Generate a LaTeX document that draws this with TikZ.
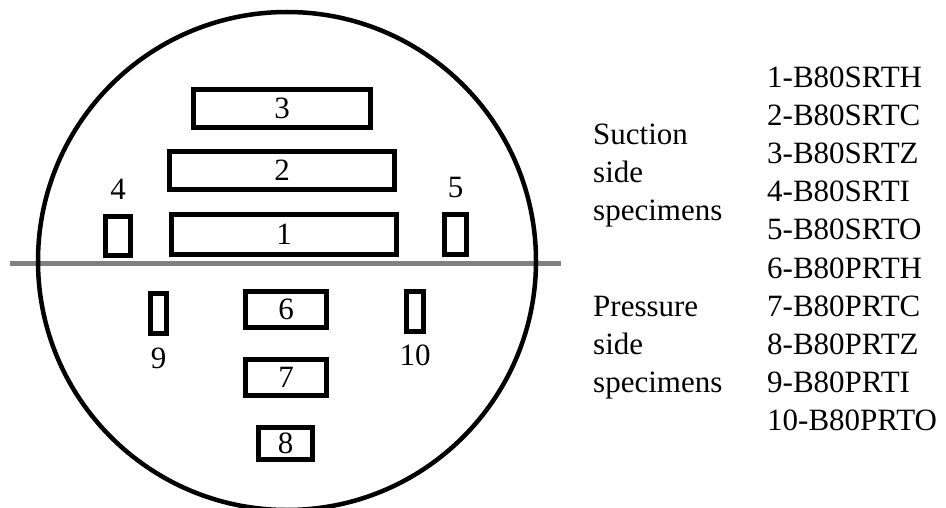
\documentclass[tikz,border=0pt]{standalone}
\usepackage{fontspec}
\setmainfont{Liberation Serif}
\usepackage{xcolor}
\usetikzlibrary{positioning}

\definecolor{cutgray}{RGB}{128,128,128}

\begin{document}
\begin{tikzpicture}[
    x=1pt, y=-1pt,
    specimen/.style={draw, line width=5pt, inner sep=0pt, font=\fontsize{31}{38}\selectfont},
    tag/.style={inner sep=0pt, font=\fontsize{31}{38}\selectfont},
    legend/.style={inner sep=0pt, anchor=base west, font=\fontsize{31}{38}\selectfont}
]
    \useasboundingbox (0,0) rectangle (946,508);

    % Cutting plane and blade section
    \coordinate (cutL) at (10,263);
    \coordinate (cutR) at (561,263);
    \draw[cutgray, line width=5pt] (cutL) -- (cutR);
    \draw[line width=4.5pt] (287,261) circle[radius=249pt];

    % Suction side specimens
    \node[specimen, minimum width=177pt, minimum height=38pt] (s3) at (282,108.5) {3};
    \node[specimen, minimum width=225pt, minimum height=38pt] (s2) at (282,170.5) {2};
    \node[specimen, minimum width=225pt, minimum height=40pt] (s1) at (284,234.5) {1};
    \node[specimen, minimum width=25pt, minimum height=39pt] (s4) at (118,236) {};
    \node[specimen, minimum width=22pt, minimum height=40pt] (s5) at (455.5,234.5) {};
    \node[tag, above=14pt of s4] (t4) {4};
    \node[tag, above=14pt of s5] (t5) {5};

    % Pressure side specimens
    \node[specimen, minimum width=81pt, minimum height=36pt] (s6) at (286,309.5) {6};
    \node[specimen, minimum width=81pt, minimum height=36pt] (s7) at (286,377.5) {7};
    \node[specimen, minimum width=54pt, minimum height=32pt] (s8) at (285.5,443.5) {8};
    \node[specimen, minimum width=16pt, minimum height=40pt] (s9) at (158.5,313.5) {};
    \node[specimen, minimum width=17pt, minimum height=40pt] (s10) at (415,311.5) {};
    \node[tag, below=12pt of s9] (t9) {9};
    \node[tag, below=11pt of s10] (t10) {10};

    % Side notes
    \node[legend] (suc1) at (593,145) {Suction};
    \node[legend] (suc2) at (593,183) {side};
    \node[legend] (suc3) at (593,221) {specimens};
    \node[legend] (pre1) at (593,316) {Pressure};
    \node[legend] (pre2) at (593,354) {side};
    \node[legend] (pre3) at (593,392) {specimens};

    % Specimen key
    \foreach \lbl [count=\i] in {1-B80SRTH, 2-B80SRTC, 3-B80SRTZ, 4-B80SRTI, 5-B80SRTO,
                                 6-B80PRTH, 7-B80PRTC, 8-B80PRTZ, 9-B80PRTI, 10-B80PRTO}
        \node[legend] (key\i) at (767,50+38*\i) {\lbl};
\end{tikzpicture}
\end{document}
